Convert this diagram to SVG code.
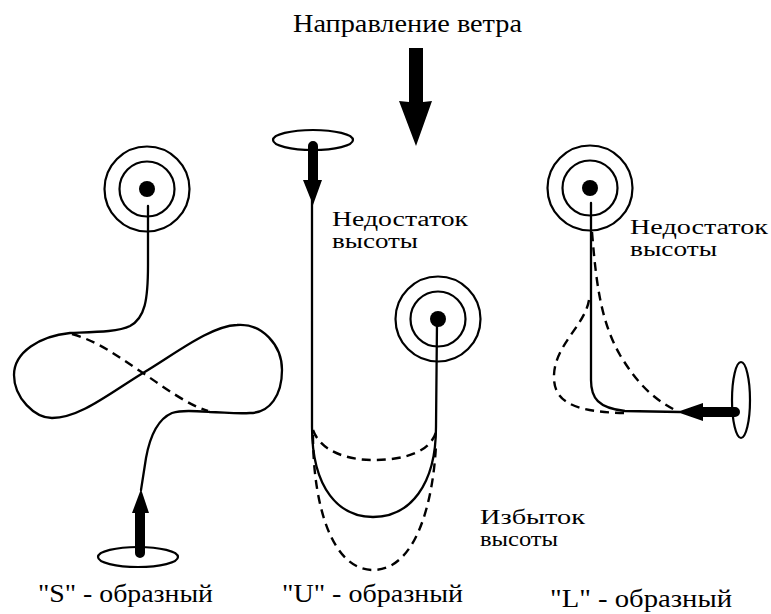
<svg xmlns="http://www.w3.org/2000/svg" width="771" height="614" viewBox="0 0 771 614">
<style>
.ln{fill:none;stroke:#000;stroke-width:2.3;stroke-linecap:round;stroke-linejoin:round}
.ds{fill:none;stroke:#000;stroke-width:2.4;stroke-dasharray:9 6}
.ring{fill:none;stroke:#000;stroke-width:2.2}
.dot{fill:#000}
.ell{fill:#fff;stroke:#000;stroke-width:2.2}
.blk{fill:#000;stroke:none}
.t{font-family:Liberation Serif, Tinos, Times New Roman, Noto Serif, DejaVu Serif, serif}
</style>
<defs>
<g id="target">
<circle class="ring" r="42.5"/>
<circle class="ring" r="27.5"/>
<circle class="dot" r="8"/>
</g>
</defs>

<g id="title">
<text class="t" x="293" y="32" font-size="25" textLength="229" lengthAdjust="spacingAndGlyphs">Направление ветра</text>
</g>
<g id="wind-arrow">
<path class="blk" d="M399,101 L409,102 L409,48 L423,48 L423,102 L432,101 L416,146 Z"/>
</g>

<g id="connectors">
<path class="ln" d="M148,206 L148,265 C148,300 145,318 130,326 C118,332 95,332 70,333 C40,336 14,352 14,375 C14,398 35,418 52,418 C80,418 110,393 143,373 C175,354 210,326 237,325 C262,323 282,345 282,370 C282,395 270,413 250,413 C235,414 222,412 210,412 C195,411 182,410 172,413 C158,419 150,436 146,458 L141,490"/>
<path class="ds" d="M72,334 C100,342 120,358 143,373 C165,388 188,405 208,411"/>
<path class="ln" d="M312,200 L312,427 C312,490 340,517 373,517 C410,517 436,485 436,427 L437,322"/>
<path class="ds" d="M313,430 C320,450 345,460 373,460 C405,460 430,452 436,432"/>
<path class="ds" d="M313,435 C313,505 332,570 373,570 C415,570 433,505 436,445"/>
<path class="ln" d="M591,203 L591,380 C591,398 598,408 625,411 L680,412"/>
<path class="ds" d="M592,232 C596,280 600,320 620,355 C638,385 655,400 677,411"/>
<path class="ds" d="M589,300 C585,325 555,345 554,375 C553,400 570,412 625,413"/>
</g>

<g id="s-target"><use href="#target" x="147" y="189"/></g>
<g id="u-target"><use href="#target" x="438" y="319"/></g>
<g id="l-target"><use href="#target" x="590" y="188"/></g>

<g id="s-start">
<ellipse class="ell" cx="138" cy="557" rx="40" ry="10"/>
<path class="blk" d="M135,553 L135,513 L132,513 L141,489 L149,513 L145,513 L145,553 A5,5 0 0 1 135,553 Z"/>
</g>

<g id="u-start">
<ellipse class="ell" cx="313" cy="140" rx="40" ry="10"/>
<path class="blk" d="M308,146 A5,5 0 0 1 318,146 L318,180 L322,180 L313,205 L303,180 L308,180 Z"/>
</g>

<g id="l-start">
<ellipse class="ell" cx="741" cy="400" rx="9" ry="38"/>
<path class="blk" d="M735,407 A5,5 0 0 1 735,417 L703,417 L703,421 L677,412 L703,403 L703,407 Z"/>
</g>

<g id="labels">
<text class="t" x="332" y="226" font-size="20" textLength="136" lengthAdjust="spacingAndGlyphs">Недостаток</text>
<text class="t" x="332" y="248" font-size="20" textLength="86" lengthAdjust="spacingAndGlyphs">высоты</text>
<text class="t" x="630" y="234" font-size="20" textLength="138" lengthAdjust="spacingAndGlyphs">Недостаток</text>
<text class="t" x="630" y="256" font-size="20" textLength="87" lengthAdjust="spacingAndGlyphs">высоты</text>
<text class="t" x="480" y="524" font-size="20" textLength="105" lengthAdjust="spacingAndGlyphs">Избыток</text>
<text class="t" x="480" y="546" font-size="20" textLength="78" lengthAdjust="spacingAndGlyphs">высоты</text>
<text class="t" x="38" y="602" font-size="26" textLength="175" lengthAdjust="spacingAndGlyphs">"S" - образный</text>
<text class="t" x="282" y="602" font-size="26" textLength="181" lengthAdjust="spacingAndGlyphs">"U" - образный</text>
<text class="t" x="550" y="607" font-size="26" textLength="182" lengthAdjust="spacingAndGlyphs">"L" - образный</text>
</g>
</svg>
